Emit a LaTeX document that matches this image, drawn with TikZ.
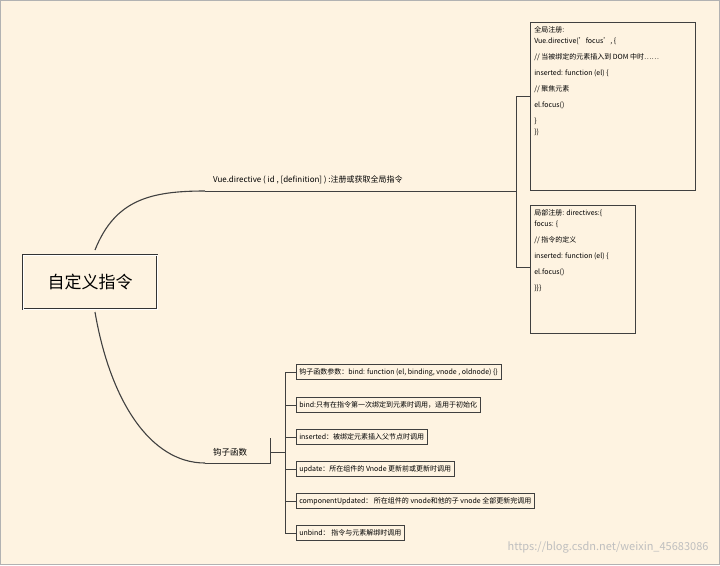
\documentclass[tikz,border=0pt]{standalone}
\usepackage{fontspec}
\setmainfont{Noto Sans CJK SC}
\begin{document}
\begin{tikzpicture}[x=1pt,y=-1pt,
  ln/.style={draw=black!75,line width=0.7pt},
  item/.style={draw=black!75,line width=0.6pt,anchor=west,inner xsep=3pt,inner ysep=2pt,minimum height=15pt,font=\fontsize{7}{8}\selectfont},
  code/.style={draw=black!75,line width=0.6pt,anchor=north west,inner sep=4pt,font=\fontsize{7}{11}\selectfont}]
\fill[yellow!18!orange!10] (0,0) rectangle (720,565);
\draw[black!30] (0.5,0.5) rectangle (719.5,564.5);
\useasboundingbox (0,0) rectangle (720,565);
% root
\node[draw=black!80,line width=1pt,double,double distance=0.6pt,minimum width=134pt,minimum height=54pt,font=\fontsize{17}{20}\selectfont] (root) at (90,282) {自定义指令};
% top branch
\node[anchor=west,font=\fontsize{8}{10}\selectfont,inner sep=3pt] (vd) at (210,180) {Vue.directive ( id , [definition] ) :注册或获取全局指令};
\coordinate (vdl) at (205,191);
\coordinate (vdr) at (516,191);
\draw[ln] (vdl) -- (vdr);
\draw[ln] (vdr) -- ++(0,-9);
\draw[ln,line width=1.1pt] (95,250) .. controls (115,200) and (150,191) .. (vdl);
\coordinate (b1t) at (516,96);
\coordinate (b1b) at (516,267);
\draw[ln] (b1t) -- (b1b);
\node[code] (g) at (530,22) {\parbox[t][160pt][t]{157pt}{\raggedright 全局注册:\\Vue.directive(\char39 focus\char39, \{\\[5pt]// 当被绑定的元素插入到 DOM 中时……\\[5pt]inserted: function (el) \{\\[5pt]// 聚焦元素\\[5pt]el.focus()\\[5pt]\}\\\})}};
\node[code] (l) at (530,205) {\parbox[t][120pt][t]{97pt}{\raggedright 局部注册: directives:\{\\focus: \{\\[5pt]// 指令的定义\\[5pt]inserted: function (el) \{\\[5pt]el.focus()\\[5pt]\}\}\}}};
\draw[ln] (b1t) -- (g.west|-b1t);
\draw[ln] (b1b) -- (l.west|-b1b);
% bottom branch
\node[anchor=west,font=\fontsize{8.5}{10}\selectfont,inner sep=3pt] (hk) at (210,452) {钩子函数};
\coordinate (hkl) at (205,463);
\coordinate (hkr) at (270,463);
\draw[ln] (hkl) -- (hkr) -- ++(0,-25);
\draw[ln,line width=1.1pt] (95,312) .. controls (110,400) and (150,463) .. (hkl);
\coordinate (bt) at (285,372);
\coordinate (bb) at (285,533);
\draw[ln] (bt) -- (bb);
\draw[ln] (270,452) -- (285,452);
\foreach \y/\t [count=\i] in {372/{钩子函数参数：bind: function (el, binding, vnode , oldnode) \{\}},
  405/{bind:只有在指令第一次绑定到元素时调用，适用于初始化},
  437/{inserted：被绑定元素插入父节点时调用},
  469/{update：所在组件的 Vnode 更新前或更新时调用},
  501/{componentUpdated： 所在组件的 vnode和他的子 vnode 全部更新完调用},
  533/{unbind： 指令与元素解绑时调用}}{
  \node[item] (it\i) at (296,\y) {\t};
  \draw[ln] (285,\y) -- (it\i.west);
}
\node[anchor=east,text=black!25,font=\fontsize{11}{12}\selectfont] (wm) at (712,547) {https://blog.csdn.net/weixin\_45683086};
\end{tikzpicture}
\end{document}
